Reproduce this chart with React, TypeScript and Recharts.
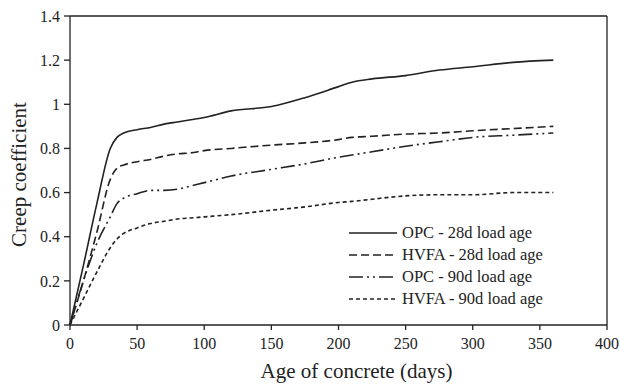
import React from 'react';
import { LineChart, Line, XAxis, YAxis, ReferenceLine, Label } from 'recharts';

const days = [0, 10, 20, 30, 35, 40, 50, 60, 70, 80, 90, 100, 120, 150, 175, 200, 210, 225, 250, 275, 300, 330, 360];
const opc28 = [0, 0.27, 0.55, 0.8, 0.85, 0.87, 0.885, 0.895, 0.91, 0.92, 0.93, 0.94, 0.97, 0.99, 1.03, 1.08, 1.1, 1.115, 1.13, 1.155, 1.17, 1.19, 1.2];
const hvfa28 = [0, 0.2, 0.42, 0.66, 0.71, 0.725, 0.74, 0.75, 0.765, 0.775, 0.78, 0.79, 0.8, 0.815, 0.825, 0.84, 0.85, 0.855, 0.865, 0.87, 0.88, 0.89, 0.9];
const opc90 = [0, 0.2, 0.37, 0.49, 0.55, 0.575, 0.595, 0.61, 0.61, 0.615, 0.63, 0.645, 0.675, 0.705, 0.73, 0.76, 0.77, 0.785, 0.81, 0.83, 0.85, 0.86, 0.87];
const hvfa90 = [0, 0.12, 0.24, 0.35, 0.39, 0.415, 0.44, 0.46, 0.47, 0.48, 0.485, 0.49, 0.5, 0.52, 0.535, 0.555, 0.56, 0.57, 0.585, 0.59, 0.59, 0.6, 0.6];

const xTicks = [0, 50, 100, 150, 200, 250, 300, 350, 400];
const yTicks = [0, 0.2, 0.4, 0.6, 0.8, 1, 1.2, 1.4];

const series = [
  { key: 'opc28', name: 'OPC - 28d load age', dash: undefined },
  { key: 'hvfa28', name: 'HVFA - 28d load age', dash: '8 4' },
  { key: 'opc90', name: 'OPC - 90d load age', dash: '14 4 2 4 2 4' },
  { key: 'hvfa90', name: 'HVFA - 90d load age', dash: '4 3' },
];

const data = days.map((d, i) => ({
  day: d,
  opc28: opc28[i],
  hvfa28: hvfa28[i],
  opc90: opc90[i],
  hvfa90: hvfa90[i],
}));

const font = '"Liberation Serif", "Times New Roman", serif';
const ink = '#222';

// legend drawn as an overlay so it doesn't steal room from the plot
const ChartLegend = () => (
  <div style={{ position: 'absolute', left: 349, top: 222, fontFamily: font, fontSize: 16.5, color: ink, lineHeight: '22px' }}>
    {series.map(s => (
      <div key={s.key} style={{ display: 'flex', alignItems: 'center' }}>
        <svg width={50} height={10} style={{ marginRight: 3 }}>
          <line x1={0} y1={5} x2={48} y2={5} stroke={ink} strokeWidth={1.5} strokeDasharray={s.dash} />
        </svg>
        <span>{s.name}</span>
      </div>
    ))}
  </div>
);

const XTitle = (props: any) => {
  const { x, width } = props.viewBox;
  return (
    <text x={x + width / 2 + 18} y={378} textAnchor="middle" fill={ink} fontSize={21} fontFamily={font}>
      Age of concrete (days)
    </text>
  );
};

const YTitle = (props: any) => {
  const { y, height } = props.viewBox;
  const cy = y + height / 2 + 4;
  return (
    <text x={19} y={cy} transform={`rotate(-90, 19, ${cy})`} textAnchor="middle" dominantBaseline="central" fill={ink} fontSize={21} fontFamily={font}>
      Creep coefficient
    </text>
  );
};

export default function App() {
  return (
    <div style={{ position: 'absolute', left: 0, top: 0, width: 620, height: 386, background: '#fff', fontFamily: font }}>
      <LineChart width={620} height={386} data={data} margin={{ top: 16, right: 13, bottom: 21, left: 0 }} style={{ fontFamily: font }}>
        <XAxis
          dataKey="day"
          type="number"
          domain={[0, 400]}
          ticks={xTicks}
          stroke={ink}
          strokeWidth={1.3}
          tickSize={5}
          tickMargin={8}
          height={40}
          tick={{ fill: ink, fontSize: 16, fontFamily: font }}
        >
          <Label content={XTitle} />
        </XAxis>
        <YAxis
          type="number"
          domain={[0, 1.4]}
          ticks={yTicks}
          width={70}
          stroke={ink}
          strokeWidth={1.3}
          tickSize={6}
          tickMargin={4}
          tick={{ fill: ink, fontSize: 16, fontFamily: font }}
        >
          <Label content={YTitle} />
        </YAxis>
        <ReferenceLine y={1.4} stroke={ink} strokeWidth={1.3} />
        <ReferenceLine x={400} stroke={ink} strokeWidth={1.3} />
        {series.map(s => (
          <Line
            key={s.key}
            type="monotone"
            dataKey={s.key}
            name={s.name}
            stroke={ink}
            strokeWidth={1.6}
            strokeDasharray={s.dash}
            dot={false}
            isAnimationActive={false}
          />
        ))}
      </LineChart>
      <ChartLegend />
    </div>
  );
}
